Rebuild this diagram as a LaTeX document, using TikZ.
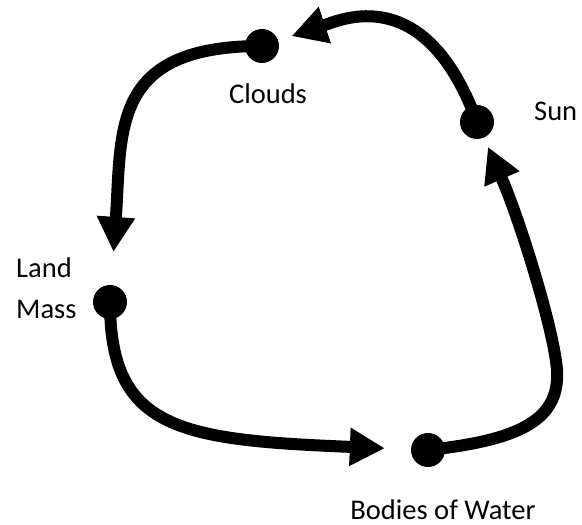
\documentclass[tikz,border=0pt]{standalone}
\usepackage{fontspec}
\setmainfont{Carlito}
\usetikzlibrary{arrows.meta}
\tikzset{flow/.style={line width=12pt,-{Triangle[length=35pt,width=36pt]}},
    dot/.style={circle,fill,inner sep=0pt,minimum size=34pt},
    textnode/.style={inner sep=1pt,font=\fontsize{28.5pt}{41pt}\selectfont}}

\begin{document}
\begin{tikzpicture}[x=1pt,y=-1pt]
\useasboundingbox (0,0) rectangle (582,525);
\node[dot] (clouds) at (262,46)  {};
\node[dot] (sun)    at (477,122) {};
\node[dot] (land)   at (110,302) {};
\node[dot] (water)  at (428,450) {};

\node[textnode,anchor=base]      (cloudstext) at (268,103) {Clouds};
\node[textnode,anchor=base west] (suntext)    at (533,120) {Sun};
\node[textnode,anchor=base west,align=left] (landtext) at (15,318) {Land\\Mass};
\node[textnode,anchor=base]      (watertext)  at (443,519) {Bodies of Water};

\draw[flow,shorten >=14pt] (sun.center) .. controls (425,-20) and (340,20) .. (clouds);
\draw[flow,shorten >=33pt] (clouds.center) .. controls (110,46) and (122,130) .. (land);
\draw[flow,shorten >=26pt] (land.center) .. controls (110,430) and (180,440) .. (water);
\draw[flow,shorten >=10pt] (water.center) .. controls (520,440) and (560,420) .. (557,370)
    .. controls (554,330) and (520,220) .. (sun);
\end{tikzpicture}
\end{document}
